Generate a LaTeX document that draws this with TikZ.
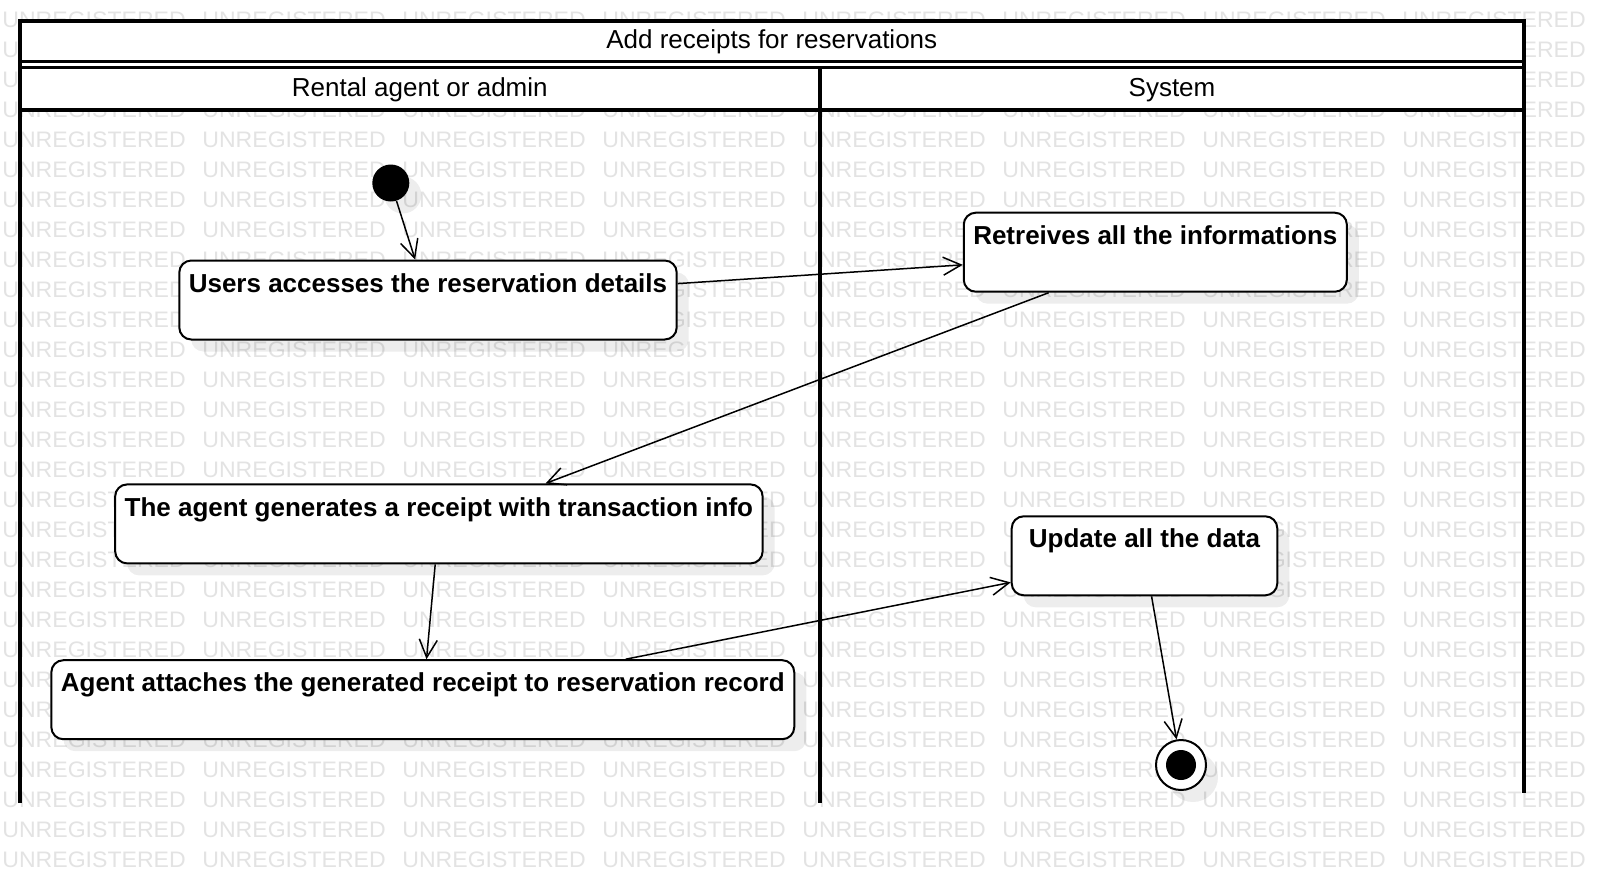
\documentclass[tikz,border=0pt]{standalone}
\usepackage{fontspec}
\setmainfont{Liberation Sans}
\usetikzlibrary{arrows.meta,shadows}

\begin{document}
\begin{tikzpicture}[x=0.5pt, y=-0.5pt,
		font=\fontsize{13}{15}\selectfont,
		wmark/.style={anchor=west, inner sep=0pt, text=black!11, font=\fontsize{11.2}{12}\selectfont},
		lane/.style={line width=2pt},
		action/.style={draw, rectangle, rounded corners=6pt, fill=white, line width=1pt, font=\fontsize{13}{15}\selectfont\bfseries, inner xsep=4.75pt, inner ysep=0pt, text height=15.8pt, text depth=23.7pt, drop shadow={shadow xshift=6pt, shadow yshift=-6pt, fill=black, opacity=.07}},
		flow/.style={-{Straight Barb[length=9pt, width=9pt]}, line width=.75pt}]
				\useasboundingbox (0,0) rectangle (1604,884);
				\fill[white] (0,0) rectangle (1604,884);
				\foreach \row in {0,...,28}
					\foreach \col in {0,...,8}
						\node[wmark] (wm-\row-\col) at (2+200*\col, 20+30*\row) {\scalebox{1.03}[1]{UNREGISTERED}};
				\fill[white] (19.5,21) rectangle (1524,110);
				\draw[lane] (19.5,803) -- (19.5,21) -- (1524,21) -- (1524,793);
				\draw[line width=1.6pt] (19.5,61.7) -- (1524,61.7);
				\draw[line width=1.6pt] (19.5,67.5) -- (1524,67.5);
				\draw[lane] (19.5,110) -- (1524,110);
				\draw[lane] (820,67.5) -- (820,803);
				\node (title) at (771.75,42) {Add receipts for reservations};
				\node (agentlane) at (419.75,90) {Rental agent or admin};
				\node (systemlane) at (1172,90) {System};
				\node[draw=none, circle, fill=black, minimum size=18.5pt, inner sep=0pt, drop shadow={shadow xshift=6pt, shadow yshift=-6pt, fill=black, opacity=.07}] (start) at (390.8,183) {};
				\node[action] (access) at (428,300) {Users accesses the reservation details};
				\node[action] (retrieve) at (1155.3,252.2) {Retreives all the informations};
				\node[action] (generate) at (438.9,523.9) {The agent generates a receipt with transaction info};
				\node[action, minimum width=132.8pt] (update) at (1144.5,555.8) {Update all the data};
				\node[action] (attach) at (422.8,699.7) {Agent attaches the generated receipt to reservation record};
				\node[draw, circle, fill=white, line width=1pt, minimum size=25pt, inner sep=0pt, drop shadow={shadow xshift=6pt, shadow yshift=-6pt, fill=black, opacity=.07}] (stop) at (1181,765) {};
				\node[circle, fill=black, minimum size=15pt, inner sep=0pt] (stopdot) at (stop) {};
				\draw[flow] (start) -- (access);
				\draw[flow] (access) -- (retrieve);
				\draw[flow] (retrieve) -- (generate);
				\draw[flow] (generate) -- (attach);
				\draw[flow] (attach) -- (update);
				\draw[flow] (update) -- (stop);
			\end{tikzpicture}
\end{document}
